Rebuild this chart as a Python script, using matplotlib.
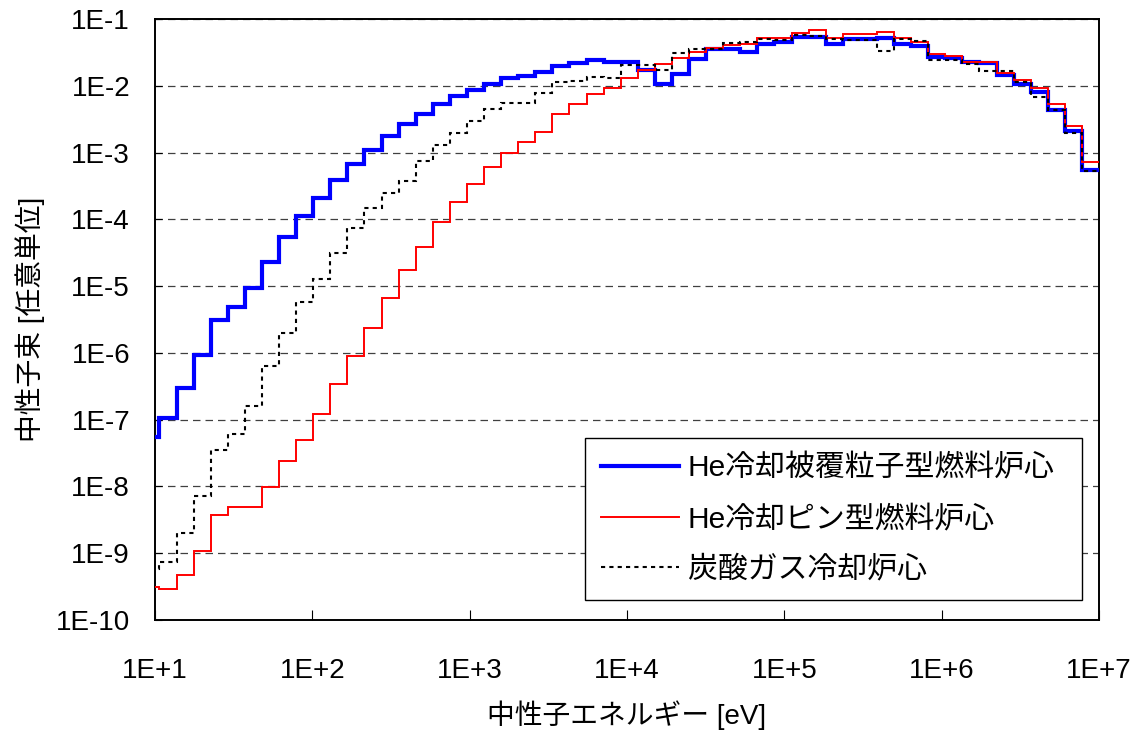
import numpy as np
import matplotlib
matplotlib.use("Agg")
import matplotlib.pyplot as plt
from matplotlib.ticker import FixedLocator, FuncFormatter, NullLocator

plt.rcParams['font.family'] = ['Liberation Sans', 'Noto Sans CJK JP']

# 70-group structure (lethargy width 0.25 from 10 MeV), upper edges of groups 1..56 plus last lower edge [eV]
edges = [1.0e7, 7.788e6, 6.0653e6, 4.7237e6, 3.6788e6, 2.8650e6, 2.2313e6, 1.7377e6,
         1.3534e6, 1.0540e6, 8.2085e5, 6.3928e5, 4.9787e5, 3.8774e5, 3.0197e5,
         2.3518e5, 1.8316e5, 1.4264e5, 1.1109e5, 8.6517e4, 6.7379e4, 5.2475e4,
         4.0868e4, 3.1828e4, 2.4788e4, 1.9305e4, 1.5034e4, 1.1709e4, 9.1188e3,
         7.1017e3, 5.5308e3, 4.3074e3, 3.3546e3, 2.6126e3, 2.0347e3, 1.5846e3,
         1.2341e3, 961.12, 748.52, 582.95, 454.00, 353.58, 275.36, 214.45, 167.02,
         130.07, 101.30, 78.893, 61.442, 47.851, 37.267, 29.023, 22.603, 17.603,
         13.710, 10.677, 8.315]

# group fluxes, group 1 (highest energy) first
he_particle = [5.5e-4, 2.07e-3, 4.36e-3, 8.2e-3, 1.06e-2, 1.46e-2, 2.2e-2, 2.25e-2,
               2.6e-2, 2.7e-2, 3.95e-2, 4.19e-2, 5.2e-2, 4.97e-2, 4.97e-2, 4.19e-2,
               5.44e-2, 5.44e-2, 4.58e-2, 4.28e-2, 3.25e-2, 3.5e-2, 3.5e-2, 2.5e-2,
               1.52e-2, 1.07e-2, 1.73e-2, 2.28e-2, 2.28e-2, 2.41e-2, 2.22e-2, 1.98e-2,
               1.61e-2, 1.41e-2, 1.30e-2, 1.08e-2, 8.6e-3, 7.06e-3, 5.3e-3, 3.76e-3,
               2.67e-3, 1.78e-3, 1.09e-3, 6.7e-4, 3.88e-4, 2.09e-4, 1.13e-4, 5.4e-5,
               2.28e-5, 9.4e-6, 4.8e-6, 3.1e-6, 9.2e-7, 3.0e-7, 1.07e-7, 5.5e-8]

he_pin = [7.3e-4, 2.52e-3, 5.42e-3, 9.2e-3, 1.21e-2, 1.54e-2, 2.3e-2, 2.3e-2,
          2.8e-2, 2.95e-2, 4.5e-2, 5.2e-2, 6.35e-2, 6.03e-2, 6.03e-2, 5.25e-2,
          6.78e-2, 6.24e-2, 5.15e-2, 5.15e-2, 4.28e-2, 4.09e-2, 3.72e-2, 3.25e-2,
          2.64e-2, 2.15e-2, 1.71e-2, 1.33e-2, 9.4e-3, 7.6e-3, 5.3e-3, 3.76e-3,
          2.05e-3, 1.45e-3, 9.7e-4, 5.98e-4, 3.42e-4, 1.82e-4, 9.2e-5, 3.82e-5,
          1.75e-5, 6.68e-6, 2.38e-6, 8.95e-7, 3.47e-7, 1.23e-7, 5.0e-8, 2.39e-8,
          9.86e-9, 4.85e-9, 4.85e-9, 3.7e-9, 1.08e-9, 4.7e-10, 2.9e-10, 3.1e-10]

co2 = [5.35e-4, 1.93e-3, 4.3e-3, 6.8e-3, 1.12e-2, 1.67e-2, 1.67e-2, 2.1e-2,
       2.41e-2, 2.41e-2, 4.69e-2, 4.97e-2, 3.35e-2, 4.8e-2, 4.8e-2, 4.97e-2,
       5.57e-2, 5.77e-2, 4.8e-2, 4.97e-2, 4.58e-2, 4.33e-2, 3.52e-2, 3.52e-2,
       3.07e-2, 1.71e-2, 2.05e-2, 2.05e-2, 1.3e-2, 1.36e-2, 1.16e-2, 1.12e-2,
       7.9e-3, 5.6e-3, 5.6e-3, 4.47e-3, 2.95e-3, 1.96e-3, 1.28e-3, 7.5e-4,
       3.79e-4, 2.45e-4, 1.46e-4, 7.34e-5, 3.1e-5, 1.29e-5, 5.74e-6, 2.0e-6,
       6.3e-7, 1.58e-7, 6.0e-8, 3.5e-8, 7.2e-9, 1.98e-9, 7.3e-10, 5.8e-10]

labels = ["He冷却被覆粒子型燃料炉心", "He冷却ピン型燃料炉心", "炭酸ガス冷却炉心"]
xticks = [1e1, 1e2, 1e3, 1e4, 1e5, 1e6, 1e7]
yticks = [1e-10, 1e-9, 1e-8, 1e-7, 1e-6, 1e-5, 1e-4, 1e-3, 1e-2, 1e-1]

fig = plt.figure(figsize=(11.44, 7.31), dpi=100)
ax = fig.add_axes([155 / 1144, 1 - 620 / 731, 944 / 1144, 601 / 731])

e = np.array(edges)[::-1]
ax.stairs(np.array(he_particle)[::-1], e, baseline=None, color="#0000ff", lw=3.0,
          label=labels[0], zorder=3)
ax.stairs(np.array(he_pin)[::-1], e, baseline=None, color="#ff0000", lw=1.4,
          label=labels[1], zorder=4)
ax.stairs(np.array(co2)[::-1], e, baseline=None, color="black", lw=1.5,
          linestyle=(0, (2, 2)), label=labels[2], zorder=5)

ax.set_xscale("log")
ax.set_yscale("log")
ax.set_xlim(1e1, 1e7)
ax.set_ylim(1e-10, 1e-1)

fmt = FuncFormatter(lambda v, p: "1E{:+d}".format(int(round(np.log10(v)))))
ax.xaxis.set_major_locator(FixedLocator(xticks))
ax.yaxis.set_major_locator(FixedLocator(yticks))
ax.xaxis.set_minor_locator(NullLocator())
ax.yaxis.set_minor_locator(NullLocator())
ax.xaxis.set_major_formatter(fmt)
ax.yaxis.set_major_formatter(fmt)
ax.tick_params(axis="x", direction="in", length=7, width=0.8, labelsize=20, pad=27)
ax.tick_params(axis="y", direction="in", length=5, width=0.8, labelsize=20, pad=18)

ax.grid(axis="y", color="#404040", lw=0.9, linestyle=(0, (6, 4)))
ax.set_axisbelow(True)
for s in ax.spines.values():
    s.set_linewidth(1.4)

ax.set_xlabel("中性子エネルギー [eV]", fontsize=20, labelpad=12)
ax.set_ylabel("中性子束 [任意単位]", fontsize=20, labelpad=8)

leg = ax.legend(loc="center", bbox_to_anchor=(0.455, 0.0366, 0.527, 0.263), mode="expand",
                fontsize=21.5, frameon=True, fancybox=False, edgecolor="black", framealpha=1,
                handlelength=2.6, handletextpad=0.3, labelspacing=0.75, borderpad=0.55,
                borderaxespad=0)
leg.get_frame().set_linewidth(1.0)

fig.savefig("out.png", dpi=100)
